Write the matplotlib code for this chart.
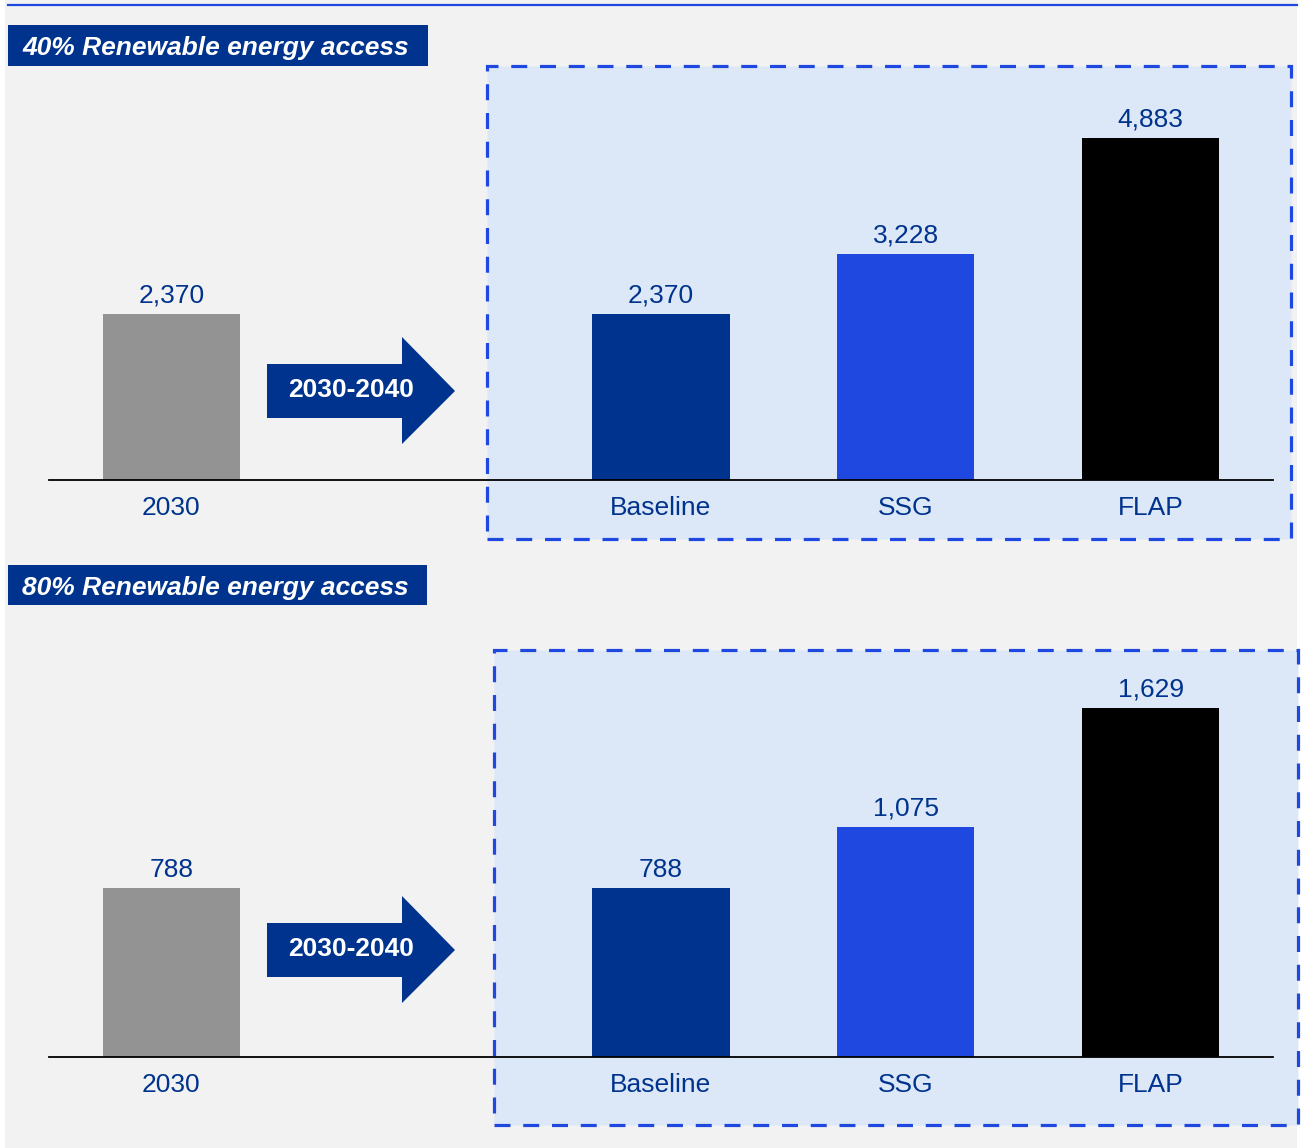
import matplotlib.pyplot as plt
import matplotlib.patches as mpatches

# data
categories = ["2030", "Baseline", "SSG", "FLAP"]
vals_40 = [2370, 2370, 3228, 4883]
vals_80 = [788, 788, 1075, 1629]
titles = ["40% Renewable energy access", "80% Renewable energy access"]
arrow_text = "2030-2040"

positions = [0, 2, 3, 4]
colors = ["#939393", "#00338d", "#1f48e0", "#000000"]
navy = "#00338d"
W, H = 1302, 1148

plt.rcParams['font.family'] = ['Liberation Sans', 'DejaVu Sans']

fig = plt.figure(figsize=(W / 100, H / 100), dpi=100)
fig.patch.set_facecolor("white")


# pixel box -> figure fraction
def fx(x):
    return x / W


def fy(y):
    return 1 - y / H


def rect(x0, y0, x1, y1, **kw):
    r = mpatches.Rectangle((fx(x0), fy(y1)), fx(x1) - fx(x0), fy(y0) - fy(y1),
                           transform=fig.transFigure, **kw)
    fig.patches.append(r)


# gray page and blue top rule
rect(5, 0, 1297, H, facecolor="#f2f2f2", edgecolor="none", zorder=-3)
fig.add_artist(plt.Line2D([fx(8), fx(1297)], [fy(5), fy(5)], color="#1f48e0",
                          lw=1.6, transform=fig.transFigure))


def arrow(ytip):
    pts = [(267, ytip - 27), (402, ytip - 27), (402, ytip - 54), (455, ytip),
           (402, ytip + 53), (402, ytip + 27), (267, ytip + 27)]
    poly = mpatches.Polygon([(fx(x), fy(y)) for x, y in pts], closed=True,
                            facecolor=navy, edgecolor="none",
                            transform=fig.transFigure, zorder=3)
    fig.patches.append(poly)
    fig.text(fx(351), fy(ytip - 1), arrow_text, color="white", fontsize=19,
             fontweight="bold", ha="center", va="center", zorder=4)


def panel(vals, title, base_y, ymax, px_per_unit, hdr, box):
    # header
    rect(hdr[0], hdr[1], hdr[2], hdr[3], facecolor=navy, edgecolor="none", zorder=2)
    fig.text(fx(hdr[0] + 14), fy((hdr[1] + hdr[3]) / 2 + 3), title, color="white",
             fontsize=19, fontweight="bold", fontstyle="italic",
             va="center", ha="left", zorder=3)
    # dashed box
    rect(box[0], box[1], box[2], box[3], facecolor="#dce8f8", edgecolor="#1f48e0",
         lw=2.3, linestyle=(0, (5, 4)), zorder=-1)
    # bars
    hpx = ymax * px_per_unit
    ax = fig.add_axes([fx(49), fy(base_y), fx(1273) - fx(49), hpx / H])
    ax.set_facecolor("none")
    bars = ax.bar(positions, vals, width=0.56, color=colors)
    ax.set_xlim(-0.5, 4.5)
    ax.set_ylim(0, ymax)
    for s in ["top", "left", "right"]:
        ax.spines[s].set_visible(False)
    ax.spines["bottom"].set_linewidth(1.3)
    ax.set_yticks([])
    ax.set_xticks(positions)
    ax.set_xticklabels(categories, fontsize=19, color=navy)
    ax.tick_params(axis="x", length=0, pad=11.5)
    for b, v in zip(bars, vals):
        ax.annotate(f"{v:,}", (b.get_x() + b.get_width() / 2, v),
                    xytext=(0, 4.5), textcoords="offset points",
                    ha="center", va="bottom", fontsize=19, color=navy)
    return ax


panel(vals_40, titles[0], 480, 6000, 166 / 2370, (8, 25, 428, 66), (487, 66, 1291, 539))
arrow(391)
panel(vals_80, titles[1], 1057, 1960, 349 / 1629, (8, 565, 427, 605), (494, 650, 1298, 1125))
arrow(950)

fig.savefig("out.png", dpi=100)
